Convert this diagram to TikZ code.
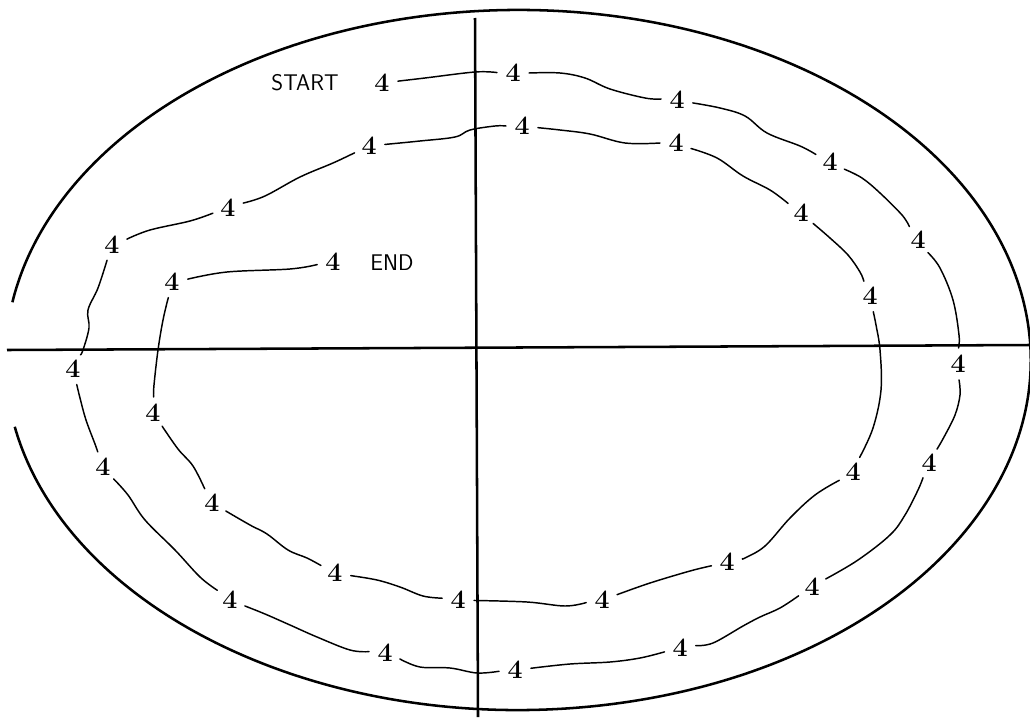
\documentclass[tikz,border=0pt]{standalone}
\usetikzlibrary{calc}
\newcommand\seg[5]{\draw[contour] plot[smooth,tension=0.6] coordinates {($(#1)!12pt!(#2)$) (#2) #3 (#4) ($(#5)!12pt!(#4)$)};}
\begin{document}
\begin{tikzpicture}[x=0.75pt,y=-0.75pt,
  num/.style={font=\bfseries\fontsize{20}{20}\selectfont, inner sep=0pt},
  lbl/.style={font=\sffamily\fontsize{17}{17}\selectfont, inner sep=0pt},
  contour/.style={line width=1.1pt, line cap=round, line join=round},
  axisline/.style={line width=1.9pt}]
\useasboundingbox (0,0) rectangle (1030,717);
\fill[white] (0,0) rectangle (1030,717);
% ellipse with gap at left
\coordinate (C) at (518,360);
\draw[axisline] ([shift={(191:384.5pt and 262.5pt)}]C) arc[start angle=191, end angle=530.5, x radius=384.5pt, y radius=262.5pt];
% axes
\coordinate (hl) at (7,350);
\coordinate (hr) at (1030,345);
\coordinate (vt) at (475,18);
\coordinate (vb) at (478,717);
\draw[axisline] (hl) -- (hr);
\draw[axisline] (vt) -- (vb);
% labels
\node[lbl] (start) at (305,83) {START};
\node[lbl] (end) at (392,263) {END};
% numbers
\foreach \n/\x/\y in {1/382/83, 2/513/73, 3/677/100, 4/830/162, 5/918/240, 6/958/364,
  7/929/463, 8/812/587, 9/680/648, 10/515/670, 11/385/653, 12/230/600, 13/103/467,
  14/73/369, 15/112/245, 16/228/208, 17/369/146, 18/522/126, 19/676/143, 20/801/213,
  21/870/296, 22/853/472, 23/727/562, 24/602/600, 25/458/600, 26/335/573, 27/212/503,
  28/153/413, 29/172/282, 30/333/262}
  \node[num] (o\n) at (\x,\y) {4};
% contour segments
\seg{o1}{425,78}{}{475,72}{o2}
\seg{o2}{560,73}{(585,78)(610,89)}{645,98}{o3}
\seg{o3}{720,108}{(745,116)(767,133)}{800,146}{o4}
\seg{o4}{862,178}{(880,193)}{902,215}{o5}
\seg{o5}{940,268}{(953,300)}{959,335}{o6}
\seg{o6}{960,395}{(955,415)}{944,437}{o7}
\seg{o7}{918,490}{(905,515)(890,535)}{858,560}{o8}
\seg{o8}{780,608}{(760,617)(743,626)}{713,643}{o9}
\seg{o9}{640,658}{(610,662)}{570,664}{o10}
\seg{o10}{477,673}{(450,668)}{420,667}{o11}
\seg{o11}{350,650}{(317,637)(290,625)}{265,614}{o12}
\seg{o12}{200,577}{(175,550)(145,520)}{128,495}{o13}
\seg{o13}{95,444}{(86,420)}{80,398}{o14}
\seg{o14}{83,350}{(89,328)(88,310)}{98,288}{o15}
\seg{o15}{150,230}{}{190,221}{o16}
\seg{o16}{265,196}{(300,177)}{333,163}{o17}
\seg{o17}{420,141}{(455,137)(470,130)}{495,126}{o18}
\seg{o18}{560,130}{(590,134)}{625,143}{o19}
\seg{o19}{717,158}{(743,176)}{770,190}{o20}
\seg{o20}{830,238}{(848,255)}{860,272}{o21}
\seg{o21}{876,325}{(880,350)(881,390)}{873,428}{o22}
\seg{o22}{815,495}{(790,518)(765,546)}{745,558}{o23}
\seg{o23}{690,571}{}{650,583}{o24}
\seg{o24}{565,606}{}{527,602}{o25}
\seg{o25}{423,596}{(400,587)}{377,580}{o26}
\seg{o26}{307,558}{(288,550)(267,534)}{250,525}{o27}
\seg{o27}{193,466}{}{178,449}{o28}
\seg{o28}{154,385}{(158,350)}{163,320}{o29}
\seg{o29}{227,272}{}{290,269}{o30}
\end{tikzpicture}
\end{document}
